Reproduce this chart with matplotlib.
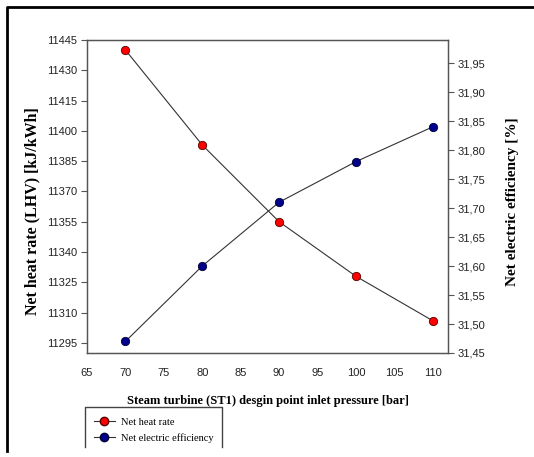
import matplotlib
matplotlib.use("Agg")
import matplotlib.pyplot as plt
from matplotlib.ticker import FuncFormatter
from matplotlib.lines import Line2D

# data
pressure = [70, 80, 90, 100, 110]
heat_rate = [11440, 11393, 11355, 11328, 11306]
efficiency = [31.47, 31.60, 31.71, 31.78, 31.84]

x_ticks = list(range(65, 111, 5))
hr_ticks = list(range(11295, 11446, 15))
eff_ticks = [31.45, 31.50, 31.55, 31.60, 31.65, 31.70, 31.75, 31.80, 31.85, 31.90, 31.95]

TICK_FONT = "Liberation Sans"
LABEL_FONT = "Liberation Serif"
SPINE_COLOR = "#555555"
RED = "#ff0000"
BLUE = "#00008b"


def main():
    fig = plt.figure(figsize=(5.34, 4.57), dpi=100)
    ax = fig.add_axes([0.163, 0.2276, 0.676, 0.685])
    ax2 = ax.twinx()

    ax.plot(pressure, heat_rate, color="#333333", lw=0.8, marker="o", ms=6,
            mfc=RED, mec="#550000", mew=0.6, zorder=3)
    ax2.plot(pressure, efficiency, color="#333333", lw=0.8, marker="o", ms=6,
             mfc=BLUE, mec="#000033", mew=0.6, zorder=3)

    ax.set_xlim(65, 112)
    ax.set_ylim(11290, 11445)
    ax2.set_ylim(31.45, 31.99)

    ax.set_xticks(x_ticks)
    ax.set_yticks(hr_ticks)
    ax2.set_yticks(eff_ticks)
    ax2.yaxis.set_major_formatter(FuncFormatter(lambda v, p: f"{v:.2f}".replace(".", ",")))

    ax.tick_params(axis="x", length=0, pad=11)
    ax.tick_params(axis="y", direction="out", length=4, width=0.8, color=SPINE_COLOR, pad=3)
    ax2.tick_params(axis="y", direction="out", length=4, width=0.8, color=SPINE_COLOR, pad=3)
    for a in (ax, ax2):
        for lbl in a.get_xticklabels() + a.get_yticklabels():
            lbl.set_fontfamily(TICK_FONT)
            lbl.set_fontsize(8)
            lbl.set_color("#222222")
        for sp in a.spines.values():
            sp.set_color(SPINE_COLOR)
            sp.set_linewidth(0.9)

    ax.set_xlabel("Steam turbine (ST1) desgin point inlet pressure [bar]",
                  fontfamily=LABEL_FONT, fontweight="bold", fontsize=9, labelpad=12)
    ax.set_ylabel("Net heat rate (LHV) [kJ/kWh]",
                  fontfamily=LABEL_FONT, fontweight="bold", fontsize=11.5)
    ax.yaxis.set_label_coords(-0.128, 0.454)
    ax2.set_ylabel("Net electric efficiency [%]",
                   fontfamily=LABEL_FONT, fontweight="bold", fontsize=11)
    ax2.yaxis.set_label_coords(1.161, 0.482)

    # legend below the axes, box open at the bottom
    handles = [
        Line2D([], [], color="#333333", lw=0.8, marker="o", ms=6, mfc=RED, mec="#550000"),
        Line2D([], [], color="#333333", lw=0.8, marker="o", ms=6, mfc=BLUE, mec="#000033"),
    ]
    fig.legend(handles, ["Net heat rate", "Net electric efficiency"],
               loc="upper left", bbox_to_anchor=(0.168, 0.096), frameon=False,
               prop={"family": LABEL_FONT, "size": 7.5}, handlelength=2.0,
               handletextpad=0.6, labelspacing=0.6, borderaxespad=0)
    box = dict(color="#444444", lw=1.0, transform=fig.transFigure)
    fig.add_artist(Line2D([0.159, 0.159, 0.416, 0.416], [0.022, 0.109, 0.109, 0.022], **box))

    # outer frame
    frame = dict(color="black", lw=2.0, transform=fig.transFigure)
    fig.add_artist(Line2D([0.013, 0.013, 1.0], [0.013, 0.985, 0.985], **frame))

    fig.savefig("out.png", dpi=100)
    plt.close(fig)


if __name__ == "__main__":
    main()
